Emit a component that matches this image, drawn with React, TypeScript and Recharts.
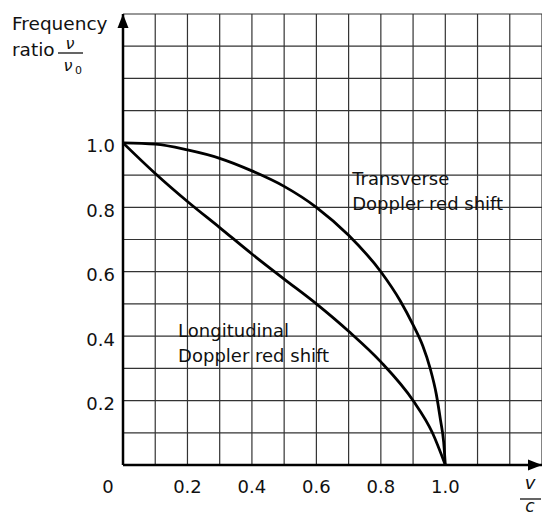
import { LineChart, Line, XAxis, YAxis, CartesianGrid, ReferenceDot } from "recharts";

const gridX = [0, 0.1, 0.2, 0.3, 0.4, 0.5, 0.6, 0.7, 0.8, 0.9, 1.0, 1.1, 1.2, 1.3];
const gridY = [0, 0.1, 0.2, 0.3, 0.4, 0.5, 0.6, 0.7, 0.8, 0.9, 1.0, 1.1, 1.2, 1.3, 1.4];
const xLabels = ["0.2", "0.4", "0.6", "0.8", "1.0"];
const yLabels = ["0.2", "0.4", "0.6", "0.8", "1.0"];

// transverse: v/c -> v/v0
const transverseX = [0, 0.1, 0.2, 0.3, 0.4, 0.5, 0.6, 0.7, 0.8, 0.86, 0.9, 0.93, 0.953, 0.972, 0.985, 0.995, 1.0];
const transverseY = [1.0, 0.996, 0.978, 0.952, 0.913, 0.865, 0.8, 0.713, 0.6, 0.51, 0.435, 0.37, 0.3, 0.22, 0.14, 0.07, 0];

// longitudinal: v/c -> v/v0
const longitudinalX = [0, 0.1, 0.2, 0.3, 0.4, 0.5, 0.6, 0.7, 0.8, 0.9, 0.96, 1.0];
const longitudinalY = [1.0, 0.905, 0.818, 0.737, 0.655, 0.577, 0.5, 0.415, 0.32, 0.2, 0.1, 0];

const transverse = transverseX.map((x, i) => ({ x, y: transverseY[i] }));
const longitudinal = longitudinalX.map((x, i) => ({ x, y: longitudinalY[i] }));

const font = "'DejaVu Sans', sans-serif";
const ink = "#111";

const fmt = (labels: string[]) => (v: number) => {
  const s = v.toFixed(1);
  return labels.includes(s) ? s : "";
};

function TwoLines(props: any) {
  const { cx, cy, lines } = props;
  return (
    <text x={cx} y={cy} fontFamily={font} fontSize={18} fill={ink}>
      <tspan x={cx} dy={0}>{lines[0]}</tspan>
      <tspan x={cx} dy={25}>{lines[1]}</tspan>
    </text>
  );
}

export default function App() {
  return (
    <div style={{ position: "absolute", left: 0, top: 0, width: 542, height: 515, background: "#fff" }}>
      <LineChart
        width={542}
        height={515}
        margin={{ top: 14, right: 0, bottom: 0, left: 0 }}
        style={{ fontFamily: font }}
      >
        <CartesianGrid stroke="#333" strokeWidth={1.2} />
        <XAxis
          type="number"
          dataKey="x"
          domain={[0, 1.3]}
          ticks={gridX}
          tickFormatter={fmt(xLabels)}
          height={50}
          tickSize={0}
          tickMargin={15}
          axisLine={{ stroke: "#000", strokeWidth: 2.5 }}
          tick={{ fill: ink, fontSize: 18, fontFamily: font }}
          allowDataOverflow
        />
        <YAxis
          type="number"
          dataKey="y"
          domain={[0, 1.4]}
          ticks={gridY}
          tickFormatter={fmt(yLabels)}
          width={123}
          tickSize={0}
          tickMargin={8}
          axisLine={{ stroke: "#000", strokeWidth: 2.5 }}
          tick={{ fill: ink, fontSize: 18, fontFamily: font, dy: 3 }}
          allowDataOverflow
        />
        <Line
          data={transverse}
          dataKey="y"
          type="monotone"
          stroke="#000"
          strokeWidth={2.8}
          dot={false}
          isAnimationActive={false}
        />
        <Line
          data={longitudinal}
          dataKey="y"
          type="monotone"
          stroke="#000"
          strokeWidth={2.8}
          dot={false}
          isAnimationActive={false}
        />
        <ReferenceDot
          x={0.711}
          y={0.87}
          r={0}
          shape={(p: any) => <TwoLines {...p} lines={["Transverse", "Doppler red shift"]} />}
        />
        <ReferenceDot
          x={0.171}
          y={0.398}
          r={0}
          shape={(p: any) => <TwoLines {...p} lines={["Longitudinal", "Doppler red shift"]} />}
        />
      </LineChart>
      <svg
        width={542}
        height={515}
        style={{ position: "absolute", left: 0, top: 0, pointerEvents: "none" }}
      >
        <polygon points="123,14 117.5,28 128.5,28" fill="#000" />
        <polygon points="542,465 528,459.5 528,470.5" fill="#000" />
        <text x={12} y={30} fontFamily={font} fontSize={18.5} fill={ink}>Frequency</text>
        <text x={12} y={56} fontFamily={font} fontSize={18.5} fill={ink}>ratio</text>
        <text x={70} y={49} fontFamily={font} fontSize={16} fontStyle="italic" fill={ink} textAnchor="middle">ν</text>
        <line x1={58} y1={53} x2={83} y2={53} stroke={ink} strokeWidth={1.3} />
        <text x={68} y={71} fontFamily={font} fontSize={16} fontStyle="italic" fill={ink} textAnchor="middle">ν</text>
        <text x={75} y={74} fontFamily={font} fontSize={11} fill={ink}>0</text>
        <text x={108} y={493} fontFamily={font} fontSize={18} fill={ink} textAnchor="middle">0</text>
        <text x={530} y={489} fontFamily={font} fontSize={18} fontStyle="italic" fill={ink} textAnchor="middle">v</text>
        <line x1={520} y1={499} x2={541} y2={499} stroke={ink} strokeWidth={1.3} />
        <text x={530} y={512} fontFamily={font} fontSize={17} fontStyle="italic" fill={ink} textAnchor="middle">c</text>
      </svg>
    </div>
  );
}
